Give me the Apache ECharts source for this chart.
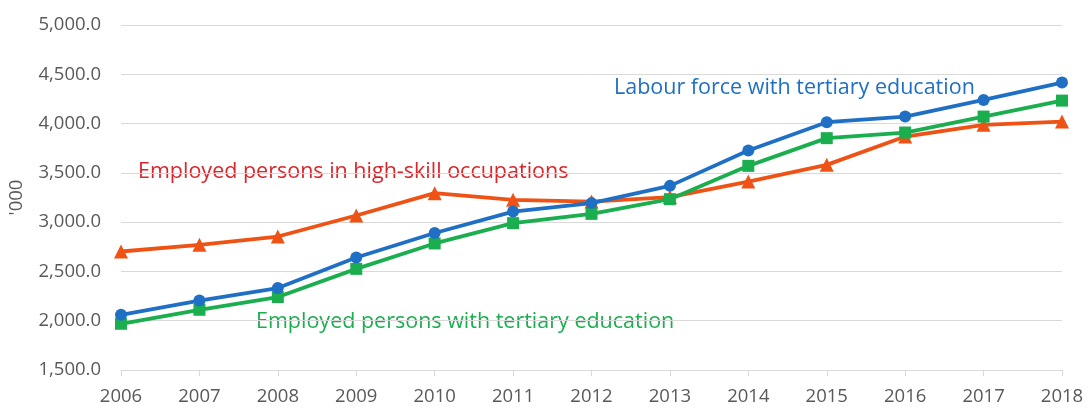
<!DOCTYPE html>
<html>
<head>
<meta charset="utf-8">
<script src="https://cdn.jsdelivr.net/npm/echarts@6/dist/echarts.min.js"></script>
<style>
  html, body { margin: 0; padding: 0; background: #fff; }
  #chart { width: 1089px; height: 408px; }
</style>
</head>
<body>
<div id="chart"></div>
<script>
// years on the x axis
const years = ['2006', '2007', '2008', '2009', '2010', '2011', '2012',
  '2013', '2014', '2015', '2016', '2017', '2018']

// thousands of persons
const labourForceTertiary = [2060, 2205, 2331, 2641, 2890, 3107, 3193, 3368, 3726, 4014, 4071, 4240, 4416]
const employedTertiary = [1969, 2111, 2240, 2526, 2784, 2990, 3084, 3233, 3571, 3852, 3909, 4071, 4233]
const employedHighSkill = [2702, 2770, 2854, 3067, 3294, 3226, 3209, 3254, 3412, 3581, 3868, 3987, 4020]

const yMin = 1500
const yMax = 5000
const yStep = 500

const blue = '#1F6FC4'
const green = '#1BAE4F'
const red = '#EE5315'
const font = 'Open Sans'

let chart = echarts.init(document.getElementById('chart'))

let lineSeries = (name, data, color, symbol, size) => ({
  name: name,
  type: 'line',
  data: data,
  symbol: symbol,
  symbolSize: size,
  lineStyle: {color: color, width: 3.8},
  itemStyle: {color: color},
  z: 3
})

let option = {
  animation: false,
  backgroundColor: '#fff',
  textStyle: {fontFamily: font},
  grid: {left: 121, right: 27, top: 25, bottom: 38, containLabel: false, outerBoundsMode: 'none'},
  xAxis: {
    type: 'category',
    data: years,
    boundaryGap: false,
    axisLine: {lineStyle: {color: '#D9D9D9', width: 1}},
    axisTick: {show: true, length: 6, lineStyle: {color: '#D9D9D9'}},
    axisLabel: {color: '#595959', fontSize: 18.5, margin: 17, fontFamily: font}
  },
  yAxis: {
    type: 'value',
    min: yMin,
    max: yMax,
    interval: yStep,
    name: "'000",
    nameLocation: 'middle',
    nameRotate: 90,
    nameGap: 95,
    nameTextStyle: {color: '#595959', fontSize: 18.5, fontFamily: font},
    axisLine: {show: false},
    axisTick: {show: false},
    splitLine: {lineStyle: {color: '#D9D9D9', width: 1}},
    axisLabel: {
      color: '#595959',
      fontSize: 18.5,
      margin: 20,
      fontFamily: font,
      formatter: v => v.toLocaleString('en-US', {minimumFractionDigits: 1, maximumFractionDigits: 1})
    }
  },
  series: [
    lineSeries('Employed persons in high-skill occupations', employedHighSkill, red, 'triangle', 14),
    lineSeries('Employed persons with tertiary education', employedTertiary, green, 'rect', 12),
    lineSeries('Labour force with tertiary education', labourForceTertiary, blue, 'circle', 12)
  ],
  graphic: [
    {
      type: 'text', x: 138, y: 172,
      style: {text: 'Employed persons in high-skill occupations', fill: '#D9262B',
        font: '21.5px "Open Sans"', verticalAlign: 'middle'}
    },
    {
      type: 'text', x: 614, y: 88,
      style: {text: 'Labour force with tertiary education', fill: blue,
        font: '21.5px "Open Sans"', verticalAlign: 'middle'}
    },
    {
      type: 'text', x: 256, y: 322,
      style: {text: 'Employed persons with tertiary education', fill: green,
        font: '21.5px "Open Sans"', verticalAlign: 'middle'}
    }
  ]
}

chart.setOption(option, true)
</script>
</body>
</html>
